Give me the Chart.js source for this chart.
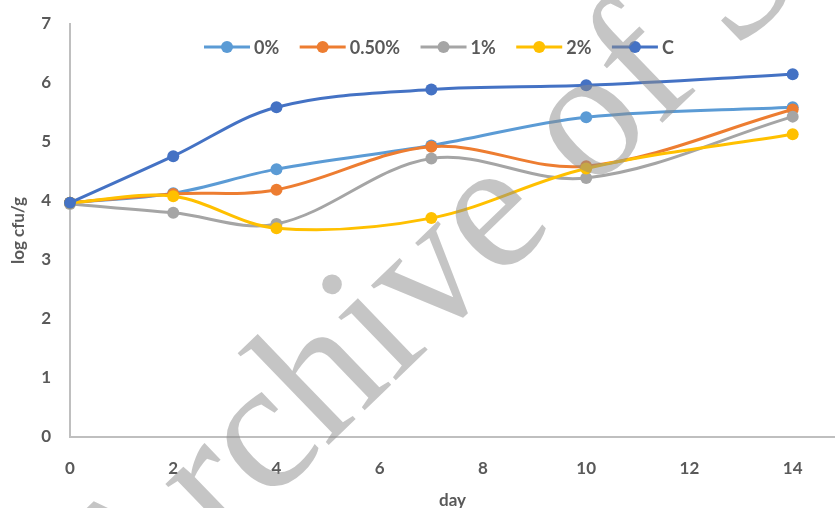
<!DOCTYPE html>
<html>
<head>
<meta charset="utf-8">
<script src="https://cdn.jsdelivr.net/npm/chart.js@4/dist/chart.umd.min.js"></script>
<style>
  html, body { margin: 0; padding: 0; background: #ffffff; }
  #wrap { width: 835px; height: 508px; position: relative; }
</style>
</head>
<body>
<div id="wrap"><canvas id="chart" width="835" height="508"></canvas></div>
<script>
// Sampling days and log counts for each treatment
const days = [0, 2, 4, 7, 10, 14];
const xTicks = [0, 2, 4, 6, 8, 10, 12, 14];
const seriesNames = ['0%', '0.50%', '1%', '2%', 'C'];
const v0   = [3.97, 4.13, 4.54, 4.94, 5.42, 5.59];
const v05  = [3.97, 4.12, 4.19, 4.92, 4.59, 5.55];
const v1   = [3.95, 3.80, 3.61, 4.72, 4.39, 5.43];
const v2   = [3.97, 4.08, 3.54, 3.71, 4.55, 5.13];
const vC   = [3.97, 4.76, 5.59, 5.89, 5.96, 6.15];

const colors = ['#5B9BD5', '#ED7D31', '#A5A5A5', '#FFC000', '#4472C4'];
const textColor = '#595959';
const fontFamily = 'Lato, "Liberation Sans", sans-serif';

const allValues = [v0, v05, v1, v2, vC];
const datasets = allValues.map((vals, i) => ({
  label: seriesNames[i],
  data: days.map((d, k) => ({ x: d, y: vals[k] })),
  borderColor: colors[i],
  backgroundColor: colors[i],
  pointBackgroundColor: colors[i],
  pointBorderColor: colors[i],
  borderWidth: 3,
  pointRadius: 6,
  pointBorderWidth: 0,
  tension: 0.35,
  clip: false,
  order: allValues.length - i   // later series drawn on top
}));

// Legend row: line with a dot, then the series name
const lineLegend = {
  id: 'lineLegend',
  afterDatasetsDraw(chart, args, opts) {
    const ctx = chart.ctx;
    ctx.save();
    ctx.font = opts.font;
    ctx.textBaseline = 'middle';
    let x = opts.x;
    const y = opts.y;
    chart.data.datasets.forEach(ds => {
      ctx.strokeStyle = ds.borderColor;
      ctx.lineWidth = 3;
      ctx.beginPath();
      ctx.moveTo(x, y);
      ctx.lineTo(x + opts.lineLen, y);
      ctx.stroke();
      ctx.fillStyle = ds.borderColor;
      ctx.beginPath();
      ctx.arc(x + opts.lineLen / 2, y, 6, 0, Math.PI * 2);
      ctx.fill();
      ctx.fillStyle = textColor;
      ctx.fillText(ds.label, x + opts.lineLen + 4, y + 1);
      x += opts.lineLen + 4 + ctx.measureText(ds.label).width + opts.gap;
    });
    ctx.restore();
  }
};

// Diagonal site watermark laid over the plot
const watermark = {
  id: 'watermark',
  afterDraw(chart, args, opts) {
    const ctx = chart.ctx;
    const size = opts.size;
    ctx.save();
    ctx.font = size + 'px "Liberation Serif", "DejaVu Serif", serif';
    ctx.textBaseline = 'alphabetic';
    ctx.fillStyle = opts.color;
    const text = opts.text;
    const idx = text.indexOf(opts.anchorChar);
    const u = ctx.measureText(text.slice(0, idx)).width + ctx.measureText(opts.anchorChar).width / 2;
    const v = -0.23 * size;
    const th = opts.angle * Math.PI / 180;
    const ox = opts.ax - (u * Math.cos(th) - v * Math.sin(th));
    const oy = opts.ay - (u * Math.sin(th) + v * Math.cos(th));
    ctx.translate(ox, oy);
    ctx.rotate(th);
    ctx.fillText(text, 0, 0);
    ctx.restore();
  }
};

new Chart(document.getElementById('chart'), {
  type: 'line',
  data: { datasets },
  plugins: [lineLegend, watermark],
  options: {
    responsive: false,
    animation: false,
    events: [],
    layout: { autoPadding: false, padding: { top: 24, right: 0, bottom: 0, left: 0 } },
    plugins: {
      legend: { display: false },
      tooltip: { enabled: false },
      lineLegend: { x: 204, y: 47, lineLen: 46, gap: 20.5, font: 'bold 18px ' + fontFamily },
      watermark: {
        text: 'Archive of SID', anchorChar: 'e', ax: 497, ay: 223,
        angle: -44, size: 186, color: 'rgba(140,140,140,0.5)'
      }
    },
    scales: {
      x: {
        type: 'linear',
        min: 0,
        max: 14.82,
        afterBuildTicks: s => { s.ticks = xTicks.map(v => ({ value: v })); },
        grid: { display: true, drawOnChartArea: false, drawTicks: false },
        border: { display: true, color: '#bfbfbf', width: 2 },
        ticks: {
          padding: 21, maxRotation: 0, autoSkip: false,
          color: textColor, font: { family: fontFamily, size: 17, weight: 'bold' }
        },
        title: {
          display: true, text: 'day', color: textColor,
          font: { family: fontFamily, size: 17, weight: 'bold' },
          padding: { top: 0, bottom: -3 }
        },
        afterFit: s => { s.height = 71; s.paddingLeft = 0; s.paddingRight = 0; }
      },
      y: {
        type: 'linear',
        min: 0,
        max: 7,
        grid: { display: true, drawOnChartArea: false, drawTicks: false },
        border: { display: true, color: '#bfbfbf', width: 2 },
        ticks: {
          stepSize: 1, padding: 19,
          color: textColor, font: { family: fontFamily, size: 17, weight: 'bold' }
        },
        title: {
          display: true, text: 'log cfu/g', color: textColor,
          font: { family: fontFamily, size: 17, weight: 'bold' },
          padding: { top: 8, bottom: 0 }
        },
        afterFit: s => { s.width = 70; s.paddingTop = 0; s.paddingBottom = 0; }
      }
    }
  }
});
</script>
</body>
</html>
